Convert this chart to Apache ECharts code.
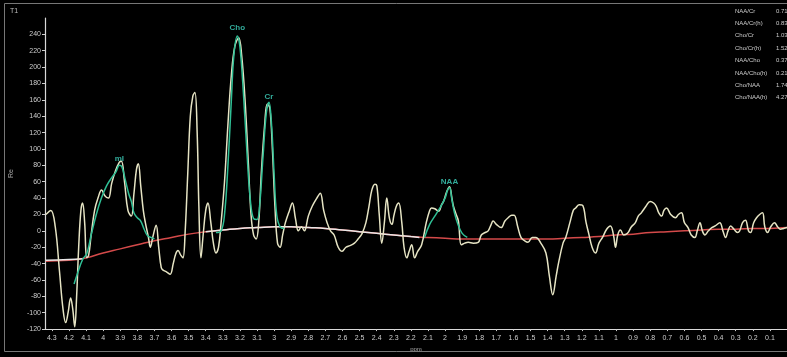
<!DOCTYPE html>
<html>
<head>
<meta charset="utf-8">
<script src="https://cdn.jsdelivr.net/npm/echarts@6/dist/echarts.min.js"></script>
<style>
  html, body { margin: 0; padding: 0; background: #000; }
  #chart { width: 787px; height: 357px; }
</style>
</head>
<body>
<div id="chart"></div>
<script>
// measured spectrum [ppm, amplitude]
const spectrum = [
  [4.335, 20], [4.306, 25], [4.28, 5], [4.255, -50], [4.235, -95], [4.219, -112], [4.205, -100],
  [4.19, -82], [4.178, -95], [4.166, -117], [4.155, -80], [4.143, -20], [4.13, 25], [4.12, 34],
  [4.108, 10], [4.096, -33], [4.085, -30], [4.07, -5], [4.05, 25], [4.03, 40], [4.009, 50],
  [3.99, 43], [3.969, 40], [3.95, 58], [3.93, 72], [3.905, 84], [3.893, 85], [3.875, 60],
  [3.855, 25], [3.835, 18], [3.82, 45], [3.805, 75], [3.794, 82], [3.78, 55], [3.765, 25],
  [3.753, 10], [3.735, -8], [3.724, -20], [3.71, -8], [3.69, 7], [3.675, -20], [3.66, -45],
  [3.649, -48], [3.63, -50], [3.608, -53], [3.59, -40], [3.575, -28], [3.562, -24], [3.545, -30],
  [3.533, -33], [3.52, 0], [3.505, 70], [3.49, 140], [3.475, 165], [3.463, 169], [3.45, 120],
  [3.44, 30], [3.428, -33], [3.415, -5], [3.4, 25], [3.387, 34], [3.37, 10], [3.355, -15],
  [3.34, -27], [3.325, -20], [3.31, 10], [3.29, 60], [3.27, 130], [3.25, 190], [3.23, 225],
  [3.207, 236], [3.19, 215], [3.17, 160], [3.15, 80], [3.135, 20], [3.12, -5], [3.105, -10],
  [3.09, 10], [3.075, 70], [3.055, 130], [3.04, 155], [3.025, 150], [3.01, 100], [2.995, 30],
  [2.98, -15], [2.965, -20], [2.95, -5], [2.934, 10], [2.91, 25], [2.893, 34], [2.875, 15],
  [2.858, 0], [2.84, 5], [2.823, 0], [2.8, 18], [2.777, 30], [2.75, 40], [2.73, 46], [2.71, 25],
  [2.69, 10], [2.67, 0], [2.649, -5], [2.625, -20], [2.602, -25], [2.58, -20], [2.556, -18],
  [2.53, -15], [2.509, -10], [2.485, -3], [2.463, 10], [2.445, 30], [2.428, 50], [2.41, 57],
  [2.399, 55], [2.385, 20], [2.37, -15], [2.355, 10], [2.341, 40], [2.325, 15], [2.31, 8],
  [2.3, 18], [2.285, 30], [2.271, 34], [2.253, 10], [2.24, -20], [2.224, -33], [2.21, -25],
  [2.195, -17], [2.178, -33], [2.16, -25], [2.137, -17], [2.11, 10], [2.09, 25], [2.079, 28],
  [2.06, 27], [2.038, 24], [2.02, 32], [2.009, 36], [1.99, 48], [1.974, 54], [1.96, 40],
  [1.951, 30], [1.935, 20], [1.922, 12], [1.905, -17], [1.885, -15], [1.864, -14], [1.835, -15],
  [1.806, -14], [1.788, -5], [1.765, -2], [1.748, 0], [1.73, 8], [1.719, 12], [1.7, 8],
  [1.672, 4], [1.65, 12], [1.631, 16], [1.61, 19], [1.596, 19], [1.575, 5], [1.556, -8],
  [1.535, -12], [1.515, -14], [1.49, -8], [1.469, -8], [1.44, -15], [1.41, -27], [1.39, -55],
  [1.37, -78], [1.35, -55], [1.335, -38], [1.31, -15], [1.294, -8], [1.27, 10], [1.25, 25],
  [1.236, 28], [1.215, 32], [1.195, 31], [1.175, 10], [1.16, -3], [1.14, -20], [1.12, -27],
  [1.1, -15], [1.079, -8], [1.055, 2], [1.033, 6], [1.015, -5], [1.003, -20], [0.99, -5],
  [0.974, 1], [0.955, -5], [0.933, -3], [0.91, 5], [0.887, 10], [0.87, 18], [0.852, 22],
  [0.825, 30], [0.8, 36], [0.78, 34], [0.765, 30], [0.75, 22], [0.733, 18], [0.72, 25],
  [0.705, 28], [0.68, 20], [0.652, 16], [0.635, 20], [0.617, 22], [0.6, 10], [0.579, 4],
  [0.56, -5], [0.539, -8], [0.525, 0], [0.509, 10], [0.495, 0], [0.48, -5], [0.46, 0],
  [0.44, 4], [0.42, 6], [0.393, 10], [0.375, 0], [0.359, -8], [0.345, 0], [0.33, 6],
  [0.31, 2], [0.29, -2], [0.277, 0], [0.26, 10], [0.243, 13], [0.225, 0], [0.213, -2],
  [0.195, 10], [0.178, 16], [0.16, 20], [0.143, 22], [0.13, 5], [0.114, -2], [0.095, 5],
  [0.073, 10], [0.055, 5], [0.038, 2], [0.02, 3], [0.0, 4]
];

// fitted peaks (null = gap between fit regions)
const fitCurve = [
  [4.17, -65], [4.15, -52], [4.12, -35], [4.096, -28], [4.07, -5], [4.04, 20], [4.01, 40],
  [3.98, 55], [3.95, 65], [3.925, 72], [3.905, 80], [3.89, 78], [3.87, 62], [3.85, 45],
  [3.835, 36], [3.82, 22], [3.8, 16], [3.78, 12], [3.76, 2], [3.74, -6], [3.72, -8], [3.7, -10],
  [3.69, null],
  [3.34, -2], [3.31, 0], [3.29, 20], [3.27, 80], [3.25, 160], [3.235, 215], [3.215, 238],
  [3.2, 225], [3.18, 170], [3.16, 100], [3.14, 40], [3.12, 15], [3.1, 14], [3.085, 30],
  [3.065, 90], [3.045, 145], [3.03, 157], [3.015, 130], [3.0, 70], [2.985, 20], [2.965, 5],
  [2.94, 3],
  [2.93, null],
  [2.12, -8], [2.09, 8], [2.06, 18], [2.03, 28], [2.0, 40], [1.985, 50], [1.974, 53],
  [1.96, 38], [1.945, 22], [1.925, 8], [1.9, -3], [1.87, -8]
];

const peakNames = ['mI', 'Cho', 'Cr', 'NAA'];
const peakPos = [[3.905, 78], [3.215, 238], [3.03, 154], [1.974, 50]];

const baseline = [
  [4.335, -37], [4.2, -36], [4.1, -33], [4.0, -27], [3.9, -22], [3.8, -17], [3.7, -12],
  [3.6, -8], [3.5, -4], [3.4, -1], [3.3, 1], [3.2, 3], [3.1, 4], [3.0, 5], [2.9, 5], [2.8, 4],
  [2.7, 3], [2.6, 1], [2.5, -1], [2.4, -3], [2.3, -5], [2.2, -7], [2.1, -8], [2.0, -9],
  [1.9, -10], [1.8, -10], [1.7, -10], [1.6, -10], [1.5, -10], [1.4, -10], [1.3, -9],
  [1.2, -8], [1.1, -7], [1.0, -5], [0.9, -4], [0.8, -2], [0.7, -1], [0.6, 0], [0.5, 1],
  [0.4, 2], [0.3, 2], [0.2, 3], [0.1, 3], [0.0, 4]
];

// white overlay of the baseline where it shows up pale
const baselineWhite = [
  [4.335, -36], [4.2, -35], [4.12, -34], [4.11, null],
  [3.4, -1], [3.3, 1], [3.2, 3], [3.1, 4], [3.0, 5], [2.9, 5], [2.8, 4], [2.7, 3], [2.6, 1],
  [2.5, -1], [2.4, -3], [2.3, -5], [2.2, -7], [2.15, -8]
];

const ratioNames = ['NAA/Cr', 'NAA/Cr(h)', 'Cho/Cr', 'Cho/Cr(h)', 'NAA/Cho', 'NAA/Cho(h)', 'Cho/NAA', 'Cho/NAA(h)'];
const ratioValues = ['0.71', '0.83', '1.03', '1.52', '0.37', '0.21', '1.74', '4.27'];

const axisFont = 'Liberation Sans, Arial, sans-serif';
const chart = echarts.init(document.getElementById('chart'), null, { renderer: 'canvas' });

const peakData = peakPos.map((p, i) => ({
  value: p,
  label: {
    show: true, position: 'top', distance: 3, formatter: peakNames[i],
    color: '#3fd6c0', fontSize: 8, fontWeight: 'bold', fontFamily: axisFont
  }
}));

const graphics = [
  { type: 'rect', shape: { x: 4.5, y: 3.5, width: 790, height: 348 }, style: { fill: 'none', stroke: '#777', lineWidth: 1 }, z: 10 },
  { type: 'text', left: 10, top: 8, style: { text: 'T1', fill: '#bbb', fontSize: 7, fontFamily: axisFont } }
];
ratioNames.forEach((n, i) => {
  graphics.push({ type: 'text', left: 735, top: 8 + i * 12.4, style: { text: n, fill: '#ccc', fontSize: 6, fontFamily: axisFont } });
  graphics.push({ type: 'text', left: 776, top: 8 + i * 12.4, style: { text: ratioValues[i], fill: '#ccc', fontSize: 6, fontFamily: axisFont } });
});

chart.setOption({
  backgroundColor: '#000',
  animation: false,
  grid: { left: 42, right: 0, top: 18, bottom: 25 },
  xAxis: {
    type: 'value', inverse: true, min: 0, max: 4.34, interval: 0.1,
    name: 'ppm', nameLocation: 'middle', nameGap: 16,
    nameTextStyle: { color: '#aaa', fontSize: 6, fontFamily: axisFont },
    axisLine: { onZero: false, lineStyle: { color: '#d8d8d8', width: 1.2 } },
    axisTick: { length: 2, lineStyle: { color: '#ccc' } },
    splitLine: { show: false },
    axisLabel: {
      color: '#ccc', fontSize: 7, fontFamily: axisFont, margin: 5, showMaxLabel: false, showMinLabel: false,
      formatter: v => { const r = Math.round(v * 10) / 10; return r === 0 ? '' : String(r); }
    }
  },
  yAxis: {
    type: 'value', min: -120, max: 260, interval: 20,
    name: 'Re', nameLocation: 'middle', nameGap: 30, nameRotate: 90,
    nameTextStyle: { color: '#aaa', fontSize: 7, fontFamily: axisFont },
    axisLine: { show: true, onZero: false, lineStyle: { color: '#d8d8d8', width: 1.2 } },
    axisTick: { show: true, length: 3, lineStyle: { color: '#ccc' } },
    splitLine: { show: false },
    axisLabel: { color: '#ccc', fontSize: 7, fontFamily: axisFont, margin: 4, showMaxLabel: false }
  },
  graphic: graphics,
  series: [
    {
      name: 'baseline', type: 'line', data: baseline, showSymbol: false, smooth: true,
      lineStyle: { color: '#d44a4a', width: 1.5 }, z: 2
    },
    {
      name: 'baselineWhite', type: 'line', data: baselineWhite, showSymbol: false, smooth: true,
      connectNulls: false, lineStyle: { color: '#e8e8e8', width: 1.5 }, z: 3
    },
    {
      name: 'spectrum', type: 'line', data: spectrum, showSymbol: false, smooth: 0.4,
      lineStyle: { color: '#e6e4c4', width: 1.5 }, z: 4
    },
    {
      name: 'fit', type: 'line', data: fitCurve, showSymbol: false, smooth: 0.4,
      connectNulls: false, lineStyle: { color: '#2fbf95', width: 1.5 }, z: 5
    },
    {
      name: 'peaks', type: 'scatter', data: peakData, symbolSize: 2,
      itemStyle: { color: 'rgba(0,0,0,0)' }, z: 6
    }
  ]
});
</script>
</body>
</html>
